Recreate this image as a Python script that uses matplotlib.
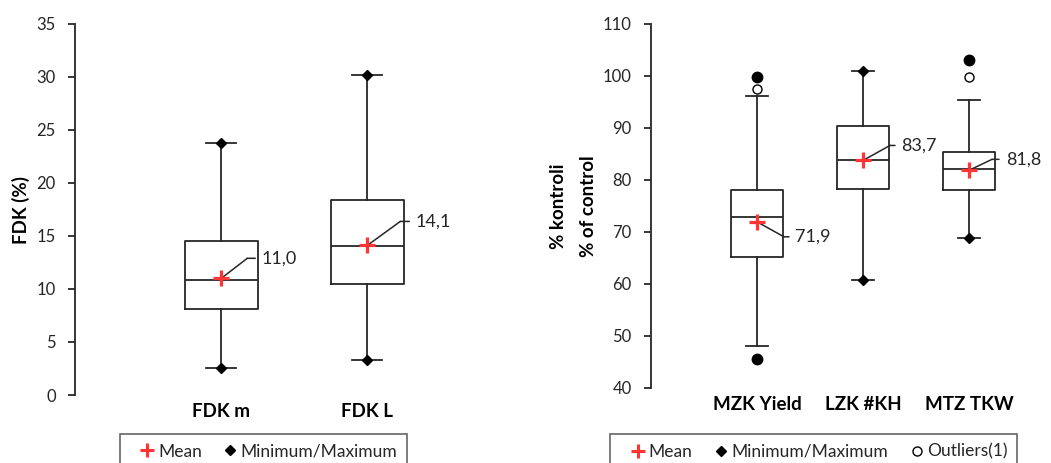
import matplotlib
matplotlib.use("Agg")
import matplotlib.pyplot as plt
from matplotlib.lines import Line2D
from matplotlib.transforms import offset_copy

plt.rcParams['font.family'] = ['Lato', 'DejaVu Sans']

# ---------------- data ----------------
left_cats = ["FDK m", "FDK L"]
left_q1 = [8.1, 10.5]
left_med = [10.8, 14.0]
left_q3 = [14.5, 18.4]
left_whislo = [2.5, 3.3]
left_whishi = [23.8, 30.2]
left_min = [2.5, 3.3]
left_max = [23.8, 30.2]
left_mean = [11.0, 14.1]
left_outliers = [[], []]
left_mean_labels = ["11,0", "14,1"]
left_yticks = [0, 5, 10, 15, 20, 25, 30, 35]

right_cats = ["MZK Yield", "LZK #KH", "MTZ TKW"]
right_q1 = [65.1, 78.2, 78.0]
right_med = [72.9, 83.7, 82.0]
right_q3 = [78.0, 90.4, 85.3]
right_whislo = [48.1, 60.8, 68.7]
right_whishi = [96.1, 101.0, 95.3]
right_min = [45.6, 60.8, 68.7]
right_max = [99.7, 101.0, 103.0]
right_mean = [71.9, 83.7, 81.8]
right_outliers = [[97.5], [], [99.7]]
right_mean_labels = ["71,9", "83,7", "81,8"]
right_yticks = [40, 50, 60, 70, 80, 90, 100, 110]

# --------------- style ---------------
W, H = 1051, 463
DARK = "#262626"
RED = "#FF3535"
fig = plt.figure(figsize=(W / 100, H / 100), dpi=100)

# label offsets in pixels: (elbow_dx, dy, end_dx, text_dx)
left_lab_style = [(26, 20, 34, 40), (33, 24, 42, 48)]
right_lab_style = [(27, -15, 32, 38), (27, 15, 32, 38), (23, 11, 30, 37)]


def draw_panel(ax, cats, q1, med, q3, wlo, whi, mn, mx, mean, outl, labels,
               yticks, ylim, xlim, boxw, capw, lab_style):
    pos = list(range(1, len(cats) + 1))
    ax.set_ylim(*ylim)
    ax.set_xlim(*xlim)
    stats = []
    for i in range(len(cats)):
        stats.append(dict(med=med[i], q1=q1[i], q3=q3[i], whislo=wlo[i],
                          whishi=whi[i], fliers=[], label=cats[i]))
    ax.bxp(stats, positions=pos, widths=boxw, capwidths=capw,
           showfliers=False, manage_ticks=False,
           boxprops=dict(color=DARK, linewidth=1.3),
           medianprops=dict(color=DARK, linewidth=1.3),
           whiskerprops=dict(color=DARK, linewidth=1.3),
           capprops=dict(color=DARK, linewidth=1.3))
    for i, p in enumerate(pos):
        for v in (mn[i], mx[i]):
            if v < wlo[i] or v > whi[i]:
                ax.plot(p, v, 'o', color='black', markersize=7.5, zorder=5)
            else:
                ax.plot(p, v, 'D', color='black', markersize=5, zorder=5)
        for v in outl[i]:
            ax.plot(p, v, 'o', mfc='white', mec='black', mew=1.0,
                    markersize=6.5, zorder=5)
        # mean label leader line
        edx, dy, endx, tdx = lab_style[i]
        t1 = offset_copy(ax.transData, fig=fig, x=edx, y=dy, units='dots')
        t2 = offset_copy(ax.transData, fig=fig, x=endx, y=dy, units='dots')
        t3 = offset_copy(ax.transData, fig=fig, x=tdx, y=dy, units='dots')
        lp = dict(arrowstyle='-', shrinkA=0, shrinkB=0, color=DARK, lw=1.1)
        ax.annotate('', xy=(p, mean[i]), xycoords='data',
                    xytext=(p, mean[i]), textcoords=t1, arrowprops=lp,
                    zorder=6)
        ax.annotate('', xy=(p, mean[i]), xycoords=t1,
                    xytext=(p, mean[i]), textcoords=t2, arrowprops=lp,
                    zorder=6)
        ax.text(p, mean[i], labels[i], transform=t3, ha='left', va='center',
                fontsize=13, color=DARK, zorder=7)
        ax.plot(p, mean[i], '+', color=RED, markersize=11.5, mew=2.3,
                zorder=8)
    ax.set_yticks(yticks)
    ax.set_xticks(pos)
    ax.set_xticklabels(cats, fontsize=13.5, fontweight='bold', color='black')
    ax.tick_params(axis='x', length=0, pad=6)
    ax.tick_params(axis='y', direction='out', length=5, width=1.3,
                   color=DARK, labelsize=12, labelcolor=DARK, pad=9)
    for s in ('top', 'right', 'bottom'):
        ax.spines[s].set_visible(False)
    ax.spines['left'].set_color(DARK)
    ax.spines['left'].set_linewidth(1.3)


# left panel
axL = fig.add_axes([75.3 / W, 68 / H, 379.6 / W, 371.3 / H])
draw_panel(axL, left_cats, left_q1, left_med, left_q3, left_whislo,
           left_whishi, left_min, left_max, left_mean, left_outliers,
           left_mean_labels, left_yticks, (0, 35), (0, 2.6), 0.5, 0.205,
           left_lab_style)

# right panel
axR = fig.add_axes([651 / W, 75.3 / H, 381.6 / W, 364 / H])
draw_panel(axR, right_cats, right_q1, right_med, right_q3, right_whislo,
           right_whishi, right_min, right_max, right_mean, right_outliers,
           right_mean_labels, right_yticks, (40, 110), (0, 3.6), 0.49, 0.21,
           right_lab_style)

# y labels
fig.text(21 / W, 1 - 210 / H, "FDK (%)", rotation=90, ha='center',
         va='center', fontsize=13.5, fontweight='bold', color='black')
fig.text(558 / W, 1 - 206 / H, "% kontroli", rotation=90, ha='center',
         va='center', fontsize=13.5, fontweight='bold', color='black')
fig.text(588 / W, 1 - 206 / H, "% of control", rotation=90, ha='center',
         va='center', fontsize=13.5, fontweight='bold', color='black')

# legends
h_mean = Line2D([], [], linestyle='none', marker='+', color=RED,
                markersize=10, mew=2.2)
h_mm = Line2D([], [], linestyle='none', marker='D', color='black',
              markersize=5)
h_out = Line2D([], [], linestyle='none', marker='o', mfc='white',
               mec='black', markersize=6.5)

leg_kw = dict(loc='upper center', frameon=True, fancybox=False,
              fontsize=12.5, handlelength=2.1, handletextpad=-0.45,
              columnspacing=0.6, borderpad=0.55, borderaxespad=0)
legL = fig.legend([h_mean, h_mm], ["Mean", "Minimum/Maximum"],
                  bbox_to_anchor=(263.4 / W, 1 - 434 / H), ncol=2, **leg_kw)
legR = fig.legend([h_mean, h_mm, h_out],
                  ["Mean", "Minimum/Maximum", "Outliers(1)"],
                  bbox_to_anchor=(813.5 / W, 1 - 434 / H), ncol=3, **leg_kw)
for leg in (legL, legR):
    fr = leg.get_frame()
    fr.set_edgecolor("#404040")
    fr.set_linewidth(1.2)
    for t in leg.get_texts():
        t.set_color(DARK)

fig.savefig("out.png", dpi=100)
